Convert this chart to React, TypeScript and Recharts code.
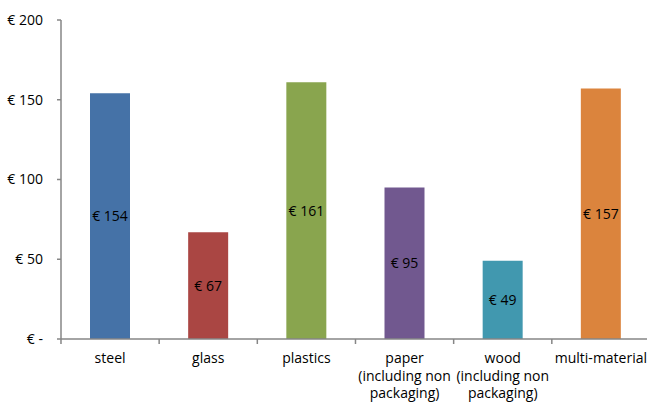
import { BarChart, Bar, XAxis, YAxis, Cell, LabelList } from 'recharts';

const categories = ['steel', 'glass', 'plastics', 'paper\n(including non\npackaging)', 'wood\n(including non\npackaging)', 'multi-material'];
const costs = [154, 67, 161, 95, 49, 157];
const colors = ['#4572A7', '#AA4643', '#89A54E', '#71588F', '#4198AF', '#DB843D'];
const yTicks = [0, 50, 100, 150, 200];

const data = categories.map((name, i) => ({ name, cost: costs[i] }));

const FONT = '"Open Sans", sans-serif';
const AXIS = '#868686';

const euro = (v: number) => (v === 0 ? '€ -' : `€ ${v}`);

function CategoryTick(props: any) {
  const { x, y, payload, index } = props;
  const half = 98.2 / 2;
  const lines = String(payload.value).split('\n');
  const base = y - 12;
  return (
    <g>
      <line x1={x - half} x2={x - half} y1={base} y2={base + 5} stroke={AXIS} strokeWidth={1.5} />
      {index === categories.length - 1 && (
        <line x1={x + half} x2={x + half} y1={base} y2={base + 5} stroke={AXIS} strokeWidth={1.5} />
      )}
      <text x={x} y={y} textAnchor="middle" fill="#000" fontSize={14} fontFamily={FONT}>
        {lines.map((l, i) => (
          <tspan key={i} x={x} dy={i === 0 ? 12 : 17.5}>{l}</tspan>
        ))}
      </text>
    </g>
  );
}

export default function App() {
  return (
    <div style={{ position: 'fixed', left: 0, top: 0, width: 647, height: 404, overflow: 'hidden', background: '#fff' }}>
      <BarChart
        width={655}
        height={410}
        data={data}
        margin={{ top: 20, right: 5, bottom: 6, left: 0 }}
        barSize={40}
        style={{ overflow: 'visible' }}
      >
        <XAxis
          dataKey="name"
          interval={0}
          height={65}
          tickLine={false}
          tickSize={0}
          tickMargin={12}
          axisLine={{ stroke: AXIS, strokeWidth: 1.5 }}
          tick={<CategoryTick />}
        />
        <YAxis
          domain={[0, 200]}
          ticks={yTicks}
          width={61}
          tickFormatter={euro}
          tickSize={4}
          tickMargin={14}
          axisLine={{ stroke: AXIS, strokeWidth: 1.5 }}
          tickLine={{ stroke: AXIS, strokeWidth: 1.5 }}
          tick={{ fill: '#000', fontSize: 14, fontFamily: FONT }}
        />
        <Bar dataKey="cost" isAnimationActive={false}>
          {data.map((d, i) => (
            <Cell key={d.name} fill={colors[i]} />
          ))}
          <LabelList dataKey="cost" position="center" formatter={(v: any) => `€ ${v}`} fill="#000" fontSize={14} fontFamily={FONT} />
        </Bar>
      </BarChart>
    </div>
  );
}
